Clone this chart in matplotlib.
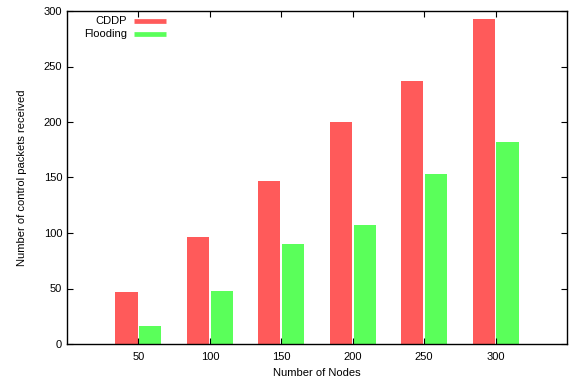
import matplotlib
matplotlib.use("Agg")
import matplotlib.pyplot as plt
import numpy as np

plt.rcParams['font.family'] = ['Liberation Sans', 'DejaVu Sans']

nodes = ["50", "100", "150", "200", "250", "300"]
cddp = [47, 96, 147, 200, 237, 293]
flooding = [16, 48, 90, 107, 153, 182]
series_names = ["CDDP", "Flooding"]

fig = plt.figure(figsize=(5.74, 3.81), dpi=100)
ax = fig.add_axes([67/574, 1-344/381, 500/574, 333/381])

x = np.arange(len(nodes))
w = 0.31
red = "#ff5a5a"
green = "#5aff5a"
ax.bar(x - 0.167, cddp, width=w, color=red)
ax.bar(x + 0.167, flooding, width=w, color=green)

ax.set_xlim(-1, 6)
ax.set_ylim(0, 300)
ax.set_xticks(x)
ax.set_xticklabels(nodes)
ax.set_yticks(np.arange(0, 301, 50))
ax.tick_params(direction="in", top=True, right=True, labelsize=8, length=4, width=0.8)
ax.tick_params(axis="x", pad=6)
for s in ax.spines.values():
    s.set_linewidth(1.0)
ax.set_xlabel("Number of Nodes", fontsize=8, labelpad=4)
ax.set_ylabel("Number of control packets received", fontsize=8, labelpad=12)

# gnuplot-style legend: right-aligned labels, sample to the right
for name, col, yy in zip(series_names, [red, green], [0.97, 0.932]):
    ax.text(0.12, yy, name, transform=ax.transAxes, ha="right", va="center", fontsize=8)
    ax.plot([0.134, 0.198], [yy, yy], transform=ax.transAxes, color=col, lw=3.4,
            solid_capstyle="butt", clip_on=False)

fig.savefig("out.png", dpi=100)
